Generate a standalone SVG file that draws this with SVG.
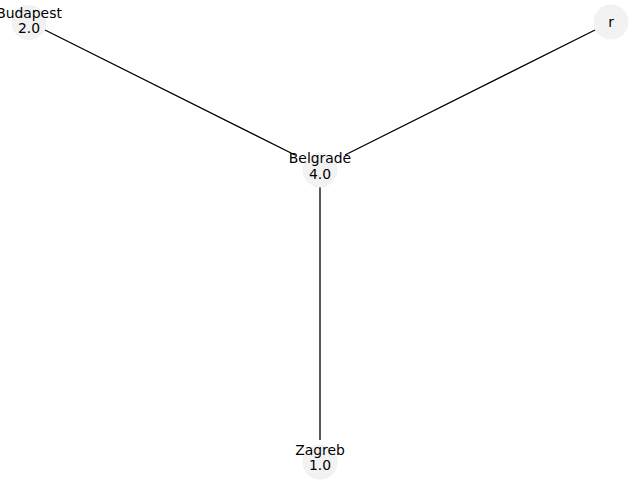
<svg xmlns="http://www.w3.org/2000/svg" width="640" height="480" viewBox="0 0 640 480">
<style>
.node circle{fill:#f2f2f2;}
.node text{font-family:"DejaVu Sans",sans-serif;font-size:13.9px;fill:#000;text-anchor:middle;}
.edges line{stroke:#000;stroke-width:1.3;}
</style>
<rect width="640" height="480" fill="#fff"/>
<g class="edges">
<line x1="45" y1="30" x2="295" y2="155"/>
<line x1="595" y1="30" x2="345" y2="155"/>
<line x1="320" y1="187" x2="320" y2="440"/>
</g>
<g class="node" id="Budapest">
<circle cx="29" cy="22.5" r="17.5"/>
<text x="29" y="17.5">Budapest</text>
<text x="29" y="33">2.0</text>
</g>
<g class="node" id="r">
<circle cx="611" cy="22" r="17.5"/>
<text x="611" y="26.5">r</text>
</g>
<g class="node" id="Belgrade">
<circle cx="320" cy="170" r="17.5"/>
<text x="320" y="163">Belgrade</text>
<text x="320" y="179">4.0</text>
</g>
<g class="node" id="Zagreb">
<circle cx="320" cy="462" r="17.5"/>
<text x="320" y="455">Zagreb</text>
<text x="320" y="470">1.0</text>
</g>
</svg>
